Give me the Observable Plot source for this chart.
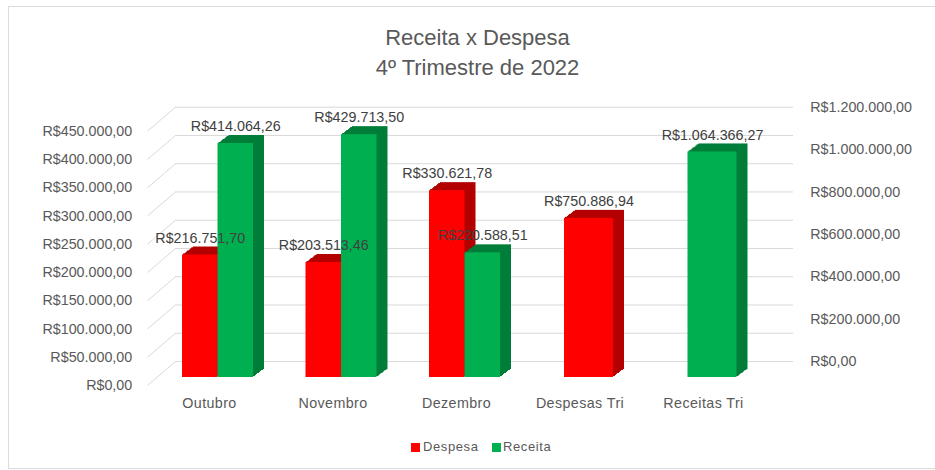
<!DOCTYPE html>
<html>
<head>
<meta charset="utf-8">
<script src="https://cdn.jsdelivr.net/npm/d3@7"></script>
<script src="https://cdn.jsdelivr.net/npm/@observablehq/plot@0.6"></script>
<style>
  body { margin:0; width:935px; height:470px; position:relative; overflow:hidden; background:#fff;
         font-family:"Liberation Sans", Arial, sans-serif; }
  #frame { position:absolute; left:8px; top:6px; width:940px; height:463px; border:1px solid #dcdcdc;
           border-right:none; box-sizing:border-box; }
  #title { position:absolute; left:0; top:23px; width:955px; text-align:center; color:#595959;
           font-size:22px; line-height:30px; }
  #chart { position:absolute; left:0; top:95px; }
  #legend { position:absolute; top:438px; left:0; width:935px; height:18px; font-size:13px; color:#595959; }
  .sw { position:absolute; top:5px; width:9px; height:9px; }
  .lt { position:absolute; top:1px; line-height:16px; letter-spacing:0.6px; }
  #chart g[aria-label="x-axis tick label"] text { letter-spacing:0.4px; }
</style>
</head>
<body>
<div id="frame"></div>
<div id="title">Receita x Despesa<br>4º Trimestre de 2022</div>
<div id="chart"></div>
<div id="legend">
  <div class="sw" style="left:411px;background:#ff0000"></div><div class="lt" style="left:423px">Despesa</div>
  <div class="sw" style="left:492px;background:#00b050"></div><div class="lt" style="left:503px">Receita</div>
</div>
<script>
// ---- data ----
const categories = ["Outubro", "Novembro", "Dezembro", "Despesas Tri", "Receitas Tri"];
const months = ["Outubro", "Novembro", "Dezembro"];
const despesa = [216751.70, 203513.46, 330621.78];
const receita = [414064.26, 429713.50, 220588.51];
const despesasTri = 750886.94;
const receitasTri = 1064366.27;
const leftTicks = [0, 50000, 100000, 150000, 200000, 250000, 300000, 350000, 400000, 450000];
const rightTicks = [0, 200000, 400000, 600000, 800000, 1000000, 1200000];

// ---- layout ----
const W = 935, H = 330;
const mL = 147.25, step = 123.5;
const mR = W - (mL + 5 * step);
const mT = 27.7, mB = 48;
const leftMax = 450000, rightMax = 1200000, ratio = leftMax / rightMax;
const pxPerUnit = (H - mT - mB) / leftMax;
const xPx = px => -0.5 + (px - mL) / step;   // page-pixel -> x scale units
const yOff = px => px / pxPerUnit;             // pixel offset -> y units
const FS = 14.3;

const fmt = v => "R$" + d3.format(",.2f")(v).replace(/,/g, "#").replace(/\./g, ",").replace(/#/g, ".");

const monthW = 35.5, monthOff = 8.5, triW = 49, triOff = 9;
const despRows = months.map((m, i) => ({
  cat: m, v: despesa[i], yv: despesa[i],
  x1: i + (monthOff - monthW) / step, x2: i + monthOff / step
}));
despRows.push({cat: "Despesas Tri", v: despesasTri, yv: despesasTri * ratio,
  x1: 3 + (triOff - triW / 2) / step, x2: 3 + (triOff + triW / 2) / step});
const recRows = months.map((m, i) => ({
  cat: m, v: receita[i], yv: receita[i],
  x1: i + monthOff / step, x2: i + (monthOff + monthW) / step
}));
recRows.push({cat: "Receitas Tri", v: receitasTri, yv: receitasTri * ratio,
  x1: 4 + (triOff - triW / 2) / step, x2: 4 + (triOff + triW / 2) / step});

const depthX = 11, depthY = 8;
const layers = (rows, fill) => d3.range(1, depthX + 1).map(k =>
  Plot.rect(rows, {x1: "x1", x2: "x2", y1: () => 0, y2: "yv", fill, inset: 0,
                   dx: k, dy: -Math.round(k * depthY / depthX)}));

const chart = Plot.plot({
  width: W, height: H,
  marginLeft: mL, marginRight: mR, marginTop: mT, marginBottom: mB,
  style: {fontFamily: "Liberation Sans, Arial, sans-serif", fontSize: FS + "px", color: "#595959",
          background: "transparent", overflow: "visible"},
  x: {type: "linear", domain: [-0.5, 4.5], label: null},
  y: {domain: [0, leftMax], label: null},
  marks: [
    Plot.ruleY(leftTicks, {y: d => d, x1: () => xPx(175), x2: () => xPx(793), dy: -16,
                           stroke: "#d9d9d9", strokeWidth: 1}),
    Plot.link(leftTicks, {x1: () => xPx(147), x2: () => xPx(175),
                          y1: d => d - yOff(8), y2: d => d + yOff(16), stroke: "#d9d9d9"}),
    ...layers(despRows, "#b30000"),
    ...layers(recRows, "#007d38"),
    Plot.rect(despRows, {x1: "x1", x2: "x2", y1: () => 0, y2: "yv", fill: "#ff0000", inset: 0}),
    Plot.rect(recRows, {x1: "x1", x2: "x2", y1: () => 0, y2: "yv", fill: "#00b050", inset: 0}),
    Plot.text([...despRows, ...recRows], {x: d => (d.x1 + d.x2) / 2, y: "yv", text: d => fmt(d.v),
                          dy: -17, lineAnchor: "middle", fill: "#404040", fontSize: FS}),
    Plot.axisY(leftTicks, {anchor: "left", tickSize: 0, tickPadding: 15.5, dy: 8,
                           tickFormat: fmt, label: null, fontSize: FS, fill: "#595959"}),
    Plot.axisY(rightTicks.map(v => v * ratio), {anchor: "right", tickSize: 0, tickPadding: 45, dy: -16,
                           tickFormat: d => fmt(Math.round(d / ratio)), label: null, fontSize: FS, fill: "#595959"}),
    Plot.axisX(d3.range(categories.length), {anchor: "bottom", tickSize: 0, tickPadding: 20,
                           tickFormat: i => categories[i], label: null, fontSize: FS, fill: "#595959"})
  ]
});
document.getElementById("chart").appendChild(chart);
</script>
</body>
</html>
